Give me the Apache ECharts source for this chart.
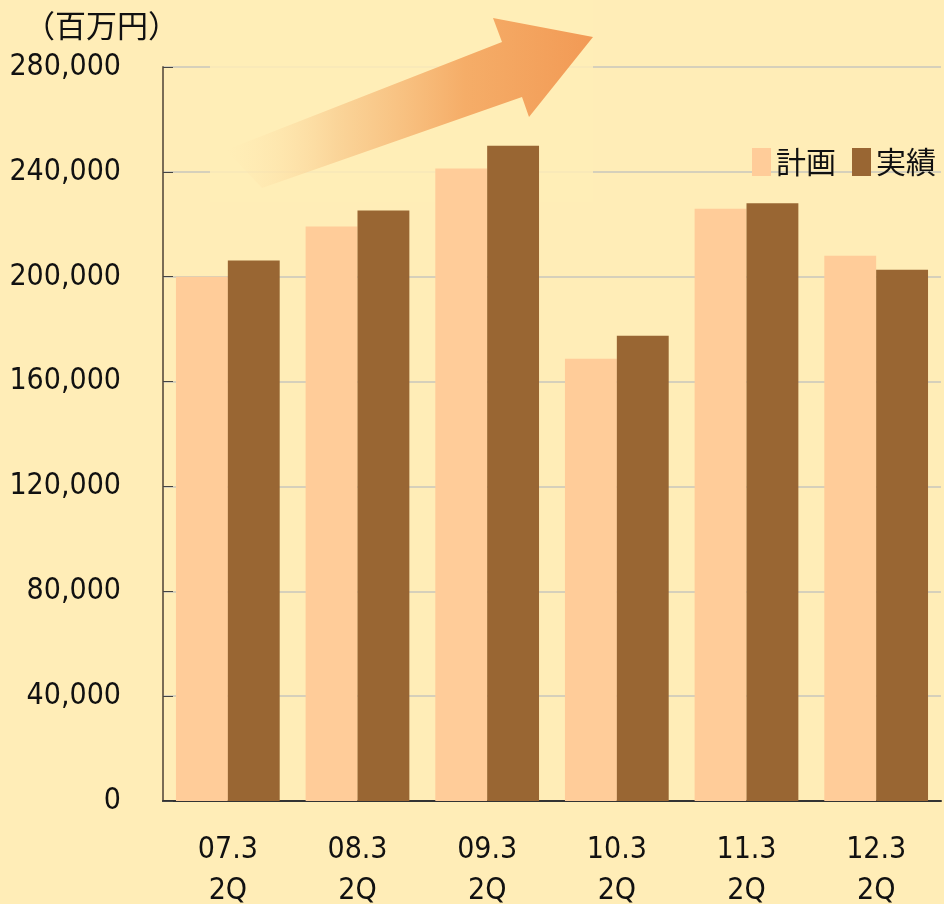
<!DOCTYPE html>
<html>
<head>
<meta charset="utf-8">
<script src="https://cdn.jsdelivr.net/npm/echarts@6/dist/echarts.min.js"></script>
<style>
  html, body { margin: 0; padding: 0; background: #FFEDB7; }
  #chart { width: 944px; height: 904px; }
</style>
</head>
<body>
<div id="chart"></div>
<script>
// Half-year periods (fiscal year end, 2nd quarter)
const periods = ['07.3', '08.3', '09.3', '10.3', '11.3', '12.3'];
const quarter = '2Q';
// Values in millions of yen
const planValues = [200000, 219200, 241300, 168700, 225900, 208000];
const actualValues = [206200, 225300, 250000, 177500, 228000, 202700];
const seriesNames = ['計画', '実績'];
const unitLabel = '（百万円）';

const categories = periods.map(p => p + '\n' + quarter);

const BG = '#FFEDB7';
const latinFont = '"DejaVu Sans Condensed", "Liberation Sans Narrow", sans-serif';
const cjkFont = '"Noto Sans CJK JP", sans-serif';

const chart = echarts.init(document.getElementById('chart'));

chart.setOption({
  backgroundColor: BG,
  animation: false,
  grid: { left: 163, right: 3, top: 67, bottom: 103, containLabel: false, outerBoundsMode: 'none' },
  legend: {
    data: seriesNames,
    left: 747,
    top: 142,
    icon: 'rect',
    itemWidth: 19,
    itemHeight: 28,
    itemGap: 16,
    textStyle: { fontFamily: cjkFont, fontSize: 30, color: '#111' }
  },
  xAxis: {
    type: 'category',
    data: categories,
    axisLine: { lineStyle: { color: '#333', width: 2 } },
    axisTick: { inside: true, length: 10, lineStyle: { color: '#555', width: 1 } },
    axisLabel: {
      margin: 29,
      fontFamily: latinFont,
      fontSize: 30,
      lineHeight: 41,
      color: '#111'
    }
  },
  yAxis: {
    type: 'value',
    min: 0,
    max: 280000,
    interval: 40000,
    axisLine: { show: true, lineStyle: { color: '#7A6C55', width: 2 } },
    axisTick: { show: true, inside: true, length: 10, lineStyle: { color: '#444', width: 1 } },
    splitLine: { lineStyle: { color: '#C9C6BC', width: 1.5 } },
    axisLabel: {
      margin: 42,
      fontFamily: latinFont,
      fontSize: 30,
      color: '#111',
      formatter: v => v.toLocaleString('en-US')
    }
  },
  graphic: [
    // soft panel behind the trend arrow
    {
      type: 'rect',
      z: 1,
      shape: { x: 210, y: 0, width: 383, height: 202 },
      style: { fill: BG, opacity: 0.85 }
    },
    // rising trend arrow
    {
      type: 'polygon',
      z: 3,
      shape: {
        points: [[226, 150], [502, 42], [493, 18], [593, 37], [529, 117], [522, 97], [262, 188]]
      },
      style: {
        fill: new echarts.graphic.LinearGradient(226, 0, 593, 0, [
          { offset: 0, color: 'rgba(255,230,175,0)' },
          { offset: 0.3, color: 'rgba(250,210,150,0.9)' },
          { offset: 0.65, color: '#F5AD68' },
          { offset: 1, color: '#F29A55' }
        ], true)
      }
    },
    {
      type: 'text',
      left: 24,
      top: 10,
      style: { text: unitLabel, fontFamily: cjkFont, fontSize: 31, fill: '#111' }
    }
  ],
  series: [
    {
      name: seriesNames[0],
      type: 'bar',
      data: planValues,
      itemStyle: { color: '#FFCC99' },
      barGap: '0%',
      barCategoryGap: '20%'
    },
    {
      name: seriesNames[1],
      type: 'bar',
      data: actualValues,
      itemStyle: { color: '#996633' }
    }
  ]
});
</script>
</body>
</html>
